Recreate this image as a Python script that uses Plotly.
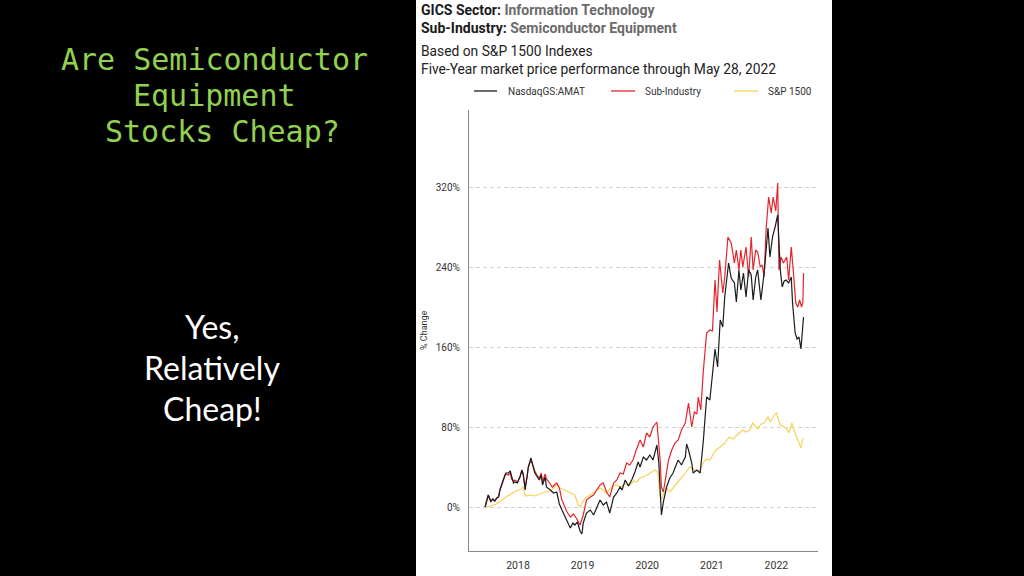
import plotly.graph_objects as go

# ---------------- data ----------------
# x positions are decimal years, y values are % change
amat_x = [2017.49, 2017.54, 2017.58, 2017.61, 2017.64, 2017.67, 2017.70, 2017.72, 2017.77, 2017.81,
          2017.85, 2017.88, 2017.90, 2017.93, 2017.95, 2017.99, 2018.03, 2018.06, 2018.08, 2018.11,
          2018.14, 2018.16, 2018.20, 2018.23, 2018.26, 2018.30, 2018.33, 2018.36, 2018.38, 2018.42,
          2018.44, 2018.50, 2018.55, 2018.60, 2018.64, 2018.68, 2018.73, 2018.76, 2018.81, 2018.85,
          2018.88, 2018.92, 2018.96, 2018.99, 2019.01, 2019.06, 2019.12, 2019.17, 2019.22, 2019.27,
          2019.32, 2019.37, 2019.42, 2019.48, 2019.53, 2019.58, 2019.61, 2019.66, 2019.71, 2019.76,
          2019.81, 2019.86, 2019.89, 2019.94, 2019.99, 2020.04, 2020.09, 2020.15, 2020.18, 2020.22,
          2020.25, 2020.30, 2020.35, 2020.40, 2020.46, 2020.48, 2020.53, 2020.59, 2020.61, 2020.64,
          2020.69, 2020.71, 2020.77, 2020.82, 2020.87, 2020.92, 2020.97, 2021.02, 2021.05, 2021.09,
          2021.13, 2021.17, 2021.20, 2021.26, 2021.30, 2021.35, 2021.38, 2021.42, 2021.45, 2021.49,
          2021.53, 2021.57, 2021.61, 2021.64, 2021.68, 2021.71, 2021.76, 2021.81, 2021.87, 2021.90,
          2021.94, 2021.98, 2022.02, 2022.06, 2022.09, 2022.12, 2022.15, 2022.19, 2022.23, 2022.25,
          2022.29, 2022.32, 2022.35, 2022.38, 2022.42]
amat_y = [0, 12, 5, 8, 6, 9, 10, 17, 27, 34,
          34, 36, 31, 24, 25, 24, 30, 37, 33, 17,
          30, 40, 49, 40, 34, 30, 27, 32, 22, 30,
          20, 17, 14, 15, 3, -3, -10, -15, -21, -16,
          -18, -15, -24, -27, -16, -6, -3, -8, 0, 7,
          2, 5, -6, 10, 14, 20, 17, 27, 21, 27,
          35, 45, 40, 50, 47, 52, 47, 62, 44, -8,
          5, 20, 29, 34, 44, 47, 42, 50, 63, 57,
          44, 34, 37, 34, 67, 110, 107, 137, 158, 140,
          187, 180, 210, 244, 229, 224, 205, 237, 217, 234,
          210, 237, 232, 207, 230, 237, 207, 234, 279, 250,
          270, 280, 292, 237, 220, 226, 227, 224, 230, 204,
          174, 168, 170, 158, 190]

sub_x = [2017.49, 2017.54, 2017.58, 2017.61, 2017.64, 2017.67, 2017.70, 2017.72, 2017.77, 2017.81,
         2017.85, 2017.88, 2017.90, 2017.93, 2017.95, 2017.99, 2018.03, 2018.06, 2018.08, 2018.11,
         2018.14, 2018.16, 2018.20, 2018.23, 2018.26, 2018.30, 2018.33, 2018.36, 2018.38, 2018.42,
         2018.44, 2018.48, 2018.53, 2018.60, 2018.64, 2018.68, 2018.73, 2018.76, 2018.81, 2018.86,
         2018.91, 2018.96, 2019.01, 2019.06, 2019.12, 2019.17, 2019.22, 2019.27, 2019.32, 2019.37,
         2019.42, 2019.48, 2019.53, 2019.58, 2019.63, 2019.68, 2019.73, 2019.78, 2019.83, 2019.89,
         2019.94, 2019.99, 2020.04, 2020.09, 2020.15, 2020.20, 2020.22, 2020.25, 2020.28, 2020.33,
         2020.38, 2020.43, 2020.48, 2020.53, 2020.59, 2020.64, 2020.69, 2020.73, 2020.77, 2020.79,
         2020.83, 2020.87, 2020.92, 2020.97, 2021.01, 2021.05, 2021.08, 2021.12, 2021.17, 2021.20,
         2021.25, 2021.30, 2021.35, 2021.38, 2021.42, 2021.45, 2021.48, 2021.53, 2021.57, 2021.61,
         2021.64, 2021.68, 2021.71, 2021.75, 2021.78, 2021.81, 2021.84, 2021.88, 2021.92, 2021.95,
         2021.99, 2022.02, 2022.04, 2022.07, 2022.11, 2022.16, 2022.19, 2022.23, 2022.26, 2022.30,
         2022.33, 2022.36, 2022.39, 2022.41, 2022.42]
sub_y = [0, 12, 6, 8, 6, 9, 11, 17, 27, 33,
         32, 34, 28, 26, 27, 25, 30, 36, 33, 20,
         30, 40, 47, 41, 36, 31, 29, 34, 25, 33,
         28, 25, 20, 24, 19, 7, 0, -5, -10, -7,
         -12, -18, -8, 7, 10, 12, 17, 22, 24, 15,
         10, 24, 27, 34, 33, 44, 42, 47, 57, 67,
         60, 74, 70, 80, 85, 47, 20, 15, 27, 47,
         57, 64, 67, 77, 84, 104, 80, 95, 93, 110,
         97, 137, 174, 177, 176, 227, 195, 247, 214, 230,
         270, 264, 244, 257, 237, 257, 240, 260, 230, 270,
         237, 257, 255, 240, 242, 230, 277, 310, 294, 310,
         296, 324, 237, 250, 244, 250, 227, 260, 237, 204,
         200, 207, 200, 205, 234]

sp_x = [2017.49, 2017.58, 2017.66, 2017.74, 2017.81, 2017.89, 2017.97, 2018.05, 2018.08, 2018.11,
        2018.19, 2018.26, 2018.34, 2018.42, 2018.50, 2018.60, 2018.65, 2018.73, 2018.81, 2018.88,
        2018.93, 2018.96, 2019.01, 2019.06, 2019.12, 2019.19, 2019.27, 2019.32, 2019.37, 2019.42,
        2019.48, 2019.53, 2019.58, 2019.66, 2019.73, 2019.79, 2019.84, 2019.89, 2019.97, 2020.05,
        2020.12, 2020.16, 2020.20, 2020.22, 2020.25, 2020.30, 2020.35, 2020.43, 2020.50, 2020.58,
        2020.66, 2020.74, 2020.81, 2020.87, 2020.92, 2020.97, 2021.02, 2021.06, 2021.13, 2021.20,
        2021.27, 2021.33, 2021.39, 2021.48, 2021.53, 2021.59, 2021.63, 2021.66, 2021.71, 2021.76,
        2021.81, 2021.87, 2021.91, 2021.97, 2022.00, 2022.06, 2022.11, 2022.15, 2022.19, 2022.21,
        2022.24, 2022.27, 2022.30, 2022.34, 2022.38, 2022.41]
sp_y = [0, 1, 3, 6, 10, 13, 16, 18, 20, 11,
        12, 11, 13, 15, 16, 22, 19, 17, 14, 12,
        2, 0, 6, 10, 12, 15, 19, 17, 14, 18,
        21, 22, 20, 23, 22, 26, 25, 29, 31, 34,
        37, 35, 10, 8, 12, 19, 15, 22, 27, 33,
        40, 37, 35, 45, 48, 47, 52, 57, 60, 64,
        70, 68, 72, 77, 75, 77, 84, 82, 78, 83,
        84, 90, 85, 92, 94, 82, 80, 79, 74, 78,
        84, 77, 72, 67, 59, 69]

year_ticks = [2018, 2019, 2020, 2021, 2022]
year_labels = ["2018", "2019", "2020", "2021", "2022"]
pct_ticks = [0, 80, 160, 240, 320]
pct_labels = ["0%", "80%", "160%", "240%", "320%"]

series_names = ["NasdaqGS:AMAT", "Sub-Industry", "S&P 1500"]
series_colors = ["#1c1c1c", "#e3262b", "#f7d25c"]

# ---------------- layout helpers (pixel -> paper) ----------------
W, H = 1024, 576
L, R, T, B = 469, 818, 110, 551
def px(x):
    return (x - L) / (R - L)
def py(y):
    return (B - y) / (B - T)

fig = go.Figure()
fig.add_trace(go.Scatter(x=sp_x, y=sp_y, mode="lines", name=series_names[2],
                         line=dict(color=series_colors[2], width=1.2)))
fig.add_trace(go.Scatter(x=sub_x, y=sub_y, mode="lines", name=series_names[1],
                         line=dict(color=series_colors[1], width=1.2)))
fig.add_trace(go.Scatter(x=amat_x, y=amat_y, mode="lines", name=series_names[0],
                         line=dict(color=series_colors[0], width=1.2)))

shapes = [
    # white chart panel
    dict(type="rect", xref="paper", yref="paper", x0=px(416), x1=px(832), y0=py(577), y1=py(-1),
         fillcolor="white", line=dict(width=0), layer="below"),
]
# manual legend line samples
leg = [(474, 497, 506), (611, 635, 643), (734, 758, 766)]
annotations = []
for (x0, x1, tx), name, col in zip(leg, series_names, series_colors):
    shapes.append(dict(type="line", xref="paper", yref="paper", x0=px(x0), x1=px(x1),
                       y0=py(91), y1=py(91), line=dict(color=col, width=1.3)))
    annotations.append(dict(xref="paper", yref="paper", x=px(tx), y=py(91), text=name,
                            showarrow=False, xanchor="left", yanchor="middle",
                            font=dict(family="Roboto", size=10, color="#333")))

chart_font = "Roboto"
annotations += [
    dict(xref="paper", yref="paper", x=px(419), y=py(10),
         text="<b>GICS Sector:</b> <b><span style='color:#6b6b6b'>Information Technology</span></b>",
         showarrow=False, xanchor="left", yanchor="middle",
         font=dict(family=chart_font, size=14, color="#1a1a1a")),
    dict(xref="paper", yref="paper", x=px(419), y=py(28),
         text="<b>Sub-Industry:</b> <b><span style='color:#6b6b6b'>Semiconductor Equipment</span></b>",
         showarrow=False, xanchor="left", yanchor="middle",
         font=dict(family=chart_font, size=14, color="#1a1a1a")),
    dict(xref="paper", yref="paper", x=px(419), y=py(51), text="Based on S&P 1500 Indexes",
         showarrow=False, xanchor="left", yanchor="middle",
         font=dict(family=chart_font, size=13.8, color="#222")),
    dict(xref="paper", yref="paper", x=px(419), y=py(69),
         text="Five-Year market price performance through May 28, 2022",
         showarrow=False, xanchor="left", yanchor="middle",
         font=dict(family=chart_font, size=13.8, color="#222")),
    dict(xref="paper", yref="paper", x=px(424), y=py(330), text="% Change", textangle=-90,
         showarrow=False, xanchor="center", yanchor="middle",
         font=dict(family=chart_font, size=9, color="#333")),
]

# slide text on the left
green = "#92d050"
mono = "DejaVu Sans Mono"
for txt, cx, cy in [("Are Semiconductor", 214, 59), ("Equipment", 214, 96), ("Stocks Cheap?", 222, 131)]:
    annotations.append(dict(xref="paper", yref="paper", x=px(cx), y=py(cy), text=txt,
                            showarrow=False, xanchor="center", yanchor="middle",
                            font=dict(family=mono, size=30, color=green)))
for txt, cy in [("Yes,", 326), ("Relatively", 367), ("Cheap!", 408)]:
    annotations.append(dict(xref="paper", yref="paper", x=px(212), y=py(cy), text=txt,
                            showarrow=False, xanchor="center", yanchor="middle",
                            font=dict(family="Lato", size=32, color="white")))

x_lo = 2018 + (L - 518) / 64.6
x_hi = 2018 + (R - 518) / 64.6
fig.update_layout(
    width=W, height=H,
    margin=dict(l=L, r=W - R, t=T, b=H - B, autoexpand=False),
    paper_bgcolor="black", plot_bgcolor="white",
    showlegend=False,
    shapes=shapes, annotations=annotations,
    xaxis=dict(range=[x_lo, x_hi], tickvals=year_ticks, ticktext=year_labels,
               showgrid=False, zeroline=False, showline=True, linecolor="#8a8a8a", linewidth=1.3,
               ticks="", ticklabelstandoff=4,
               tickfont=dict(family=chart_font, size=10.5, color="#333")),
    yaxis=dict(range=[507 - B, 507 - T], tickvals=pct_ticks, ticktext=pct_labels,
               showgrid=True, gridcolor="#d2d2d2", griddash="4px,3px", gridwidth=1,
               zeroline=False, showline=True, linecolor="#8a8a8a", linewidth=1.3,
               ticks="", ticklabelstandoff=6,
               tickfont=dict(family=chart_font, size=10, color="#333")),
)

fig.write_html("out.html", config={"displayModeBar": False},
               post_script="document.body.style.margin='0';document.body.style.background='black';")
